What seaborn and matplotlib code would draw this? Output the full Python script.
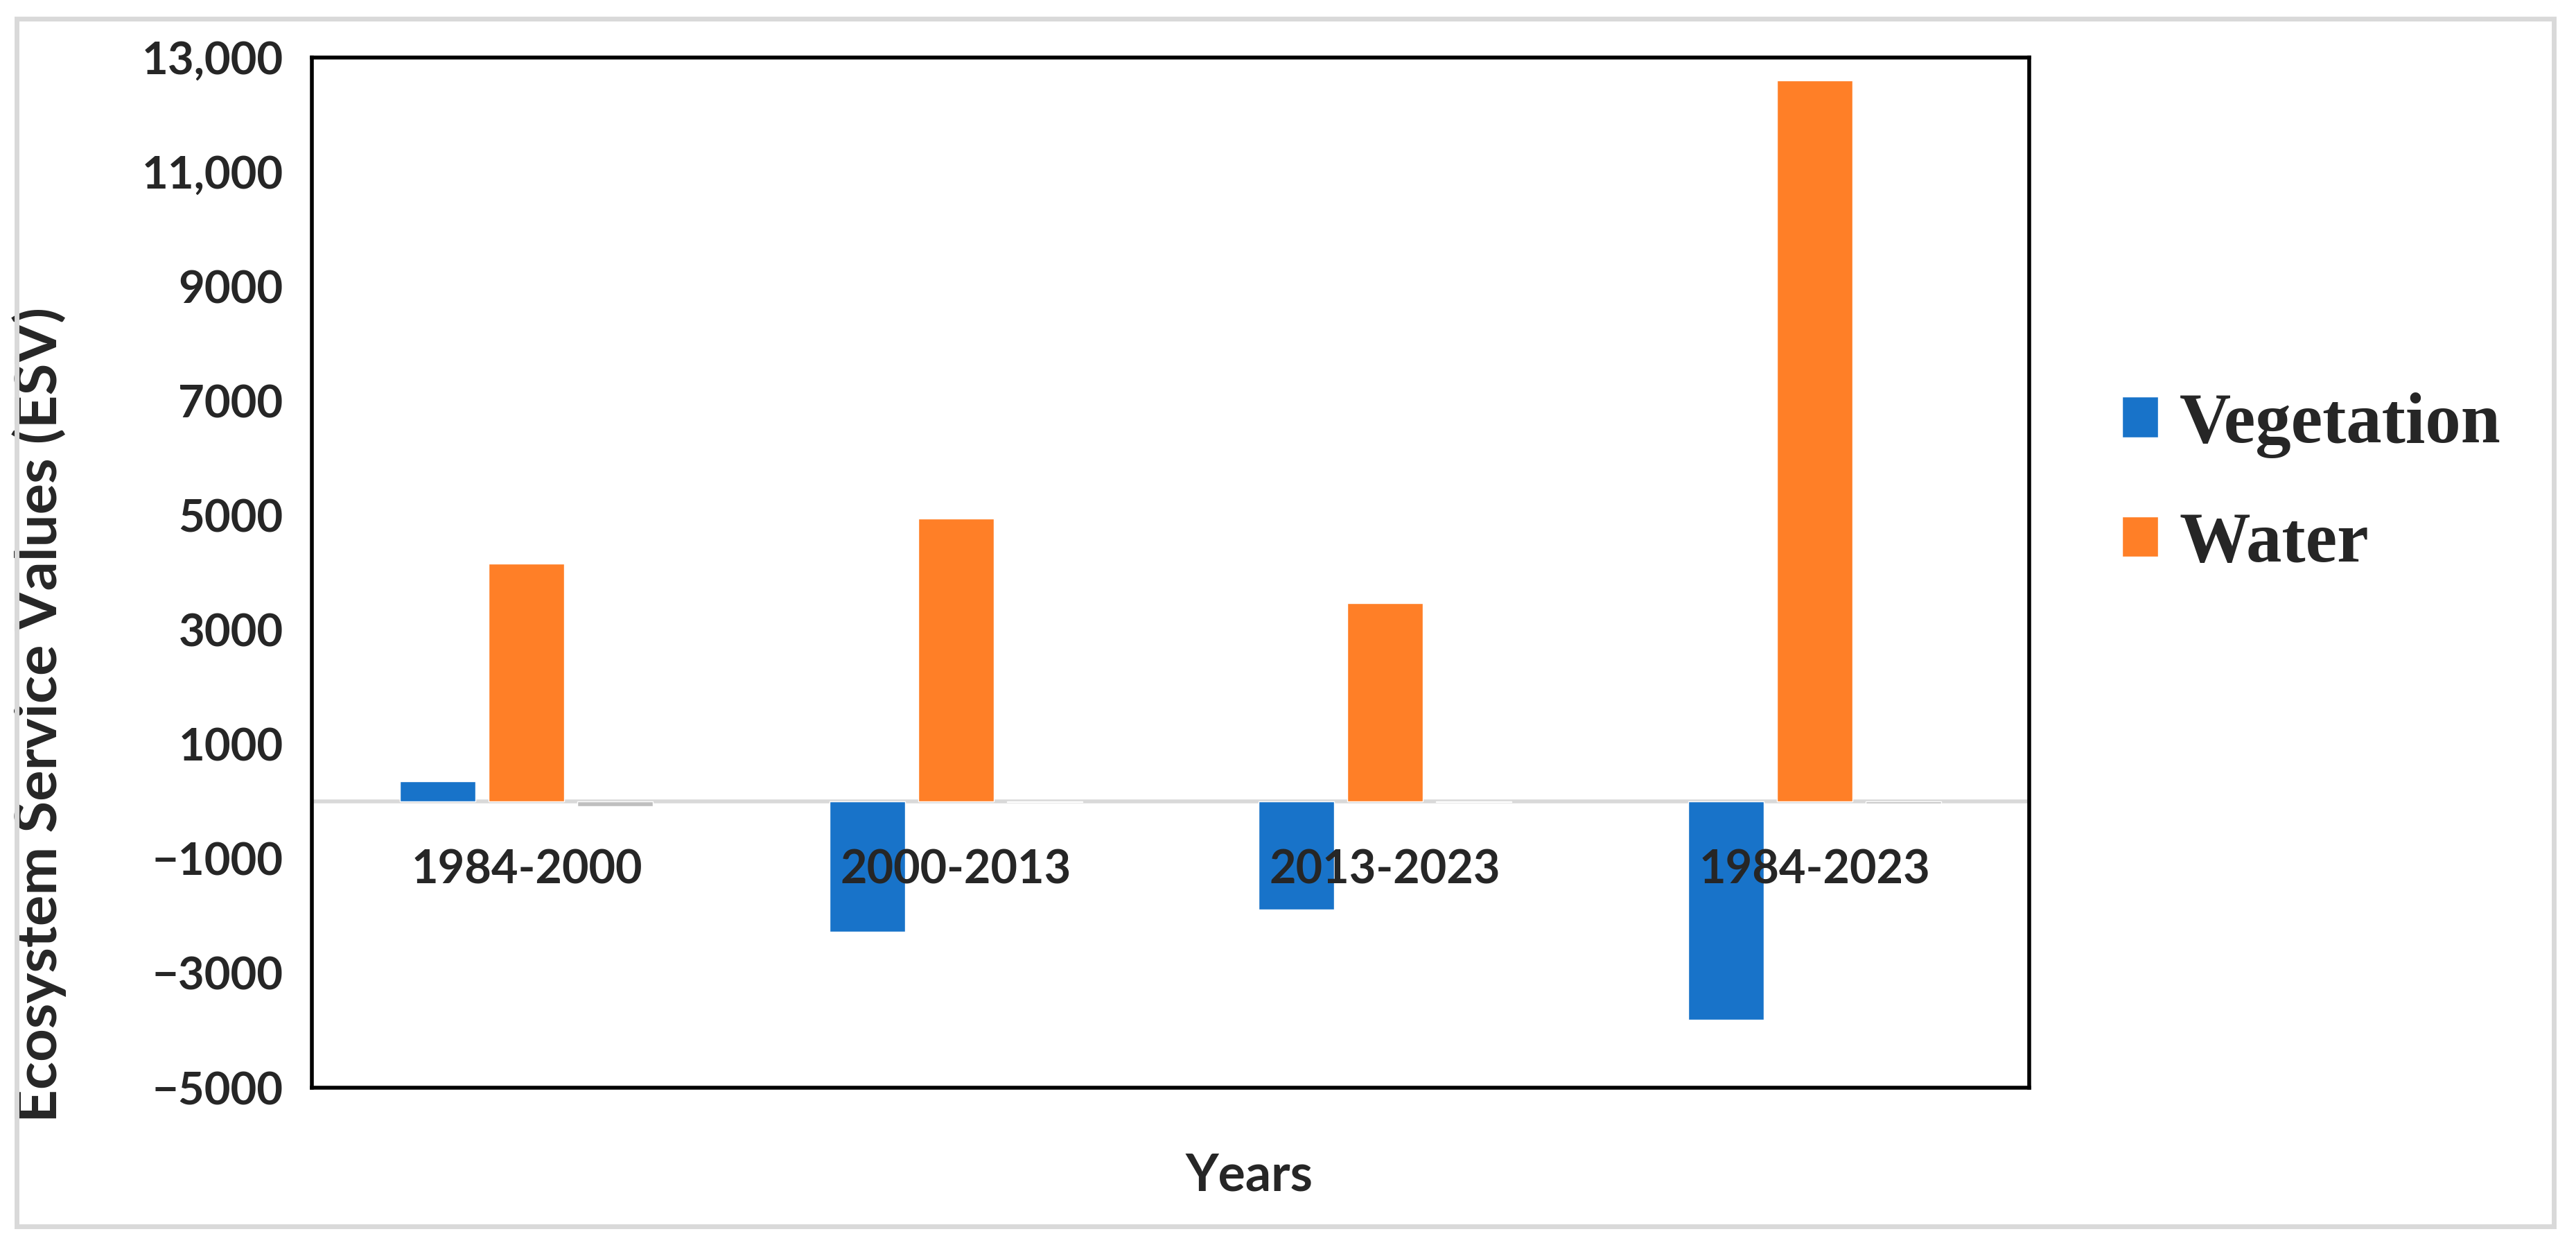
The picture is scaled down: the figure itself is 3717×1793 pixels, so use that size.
import numpy as np
import pandas as pd
import matplotlib
matplotlib.use("Agg")
import matplotlib.pyplot as plt
import seaborn as sns
from matplotlib.patches import Patch, Rectangle

# data
periods = ["1984-2000", "2000-2013", "2013-2023", "1984-2023"]
vegetation = [350, -2270, -1890, -3810]
water = [4160, 4940, 3470, 12600]
other = [-80, -10, -10, -30]   # faint grey series, not in the legend

series_names = ["Vegetation", "Water", "Other"]
series_colors = ["#1873C9", "#FF7F27", "#BFBFBF"]

y_ticks = [-5000, -3000, -1000, 1000, 3000, 5000, 7000, 9000, 11000, 13000]
y_tick_labels = ["\u22125000", "\u22123000", "\u22121000", "1000", "3000",
                 "5000", "7000", "9000", "11,000", "13,000"]

df = pd.DataFrame({
    "Period": periods * 3,
    "Series": ["Vegetation"] * 4 + ["Water"] * 4 + ["Other"] * 4,
    "ESV": vegetation + water + other,
})

sns.set_theme(style="white")
plt.rcParams["font.family"] = ["Lato", "DejaVu Sans"]

fig = plt.figure(figsize=(37.17, 17.93), dpi=100)
ax = fig.add_axes([0.1211, 0.1249, 0.6666, 0.8288])

sns.barplot(data=df, x="Period", y="ESV", hue="Series", hue_order=series_names,
            order=periods, palette=series_colors, width=0.62, gap=0.15,
            saturation=1, ax=ax, legend=False)

ax.set_ylim(-5000, 13000)
ax.set_xlim(-0.5, len(periods) - 0.5)
ax.set_yticks(y_ticks)
ax.set_yticklabels(y_tick_labels, fontsize=47, fontweight="bold")
ax.tick_params(axis="y", length=0, pad=30)
ax.set_xticks([])
ax.axhline(0, color="#D9D9D9", lw=4, zorder=0.5)

# category labels sit inside the plot, below the zero line
for i, p in enumerate(periods):
    ax.text(i, -1200, p, ha="center", va="center", fontsize=48, fontweight="bold")

for s in ax.spines.values():
    s.set_color("black")
    s.set_linewidth(4)

ax.set_xlabel("Years", fontsize=53, fontweight="bold")
ax.xaxis.set_label_coords(0.546, -0.062)
ax.set_ylabel("Ecosystem Service Values (ESV)", fontsize=60, fontweight="bold")
ax.yaxis.set_label_coords(-0.143, 0.362)

handles = [Patch(facecolor=c, label=n) for c, n in zip(series_colors[:2], series_names[:2])]
fig.legend(handles=handles, loc="center left", bbox_to_anchor=(0.799, 0.61),
           frameon=False, handlelength=0.5, handleheight=0.5, handletextpad=0.3,
           labelspacing=0.75, prop={"family": "Liberation Serif", "weight": "bold", "size": 74})

# light grey outer frame around the whole figure
fig.patches.append(Rectangle((0.0065, 0.0134), 0.985, 0.9716, transform=fig.transFigure,
                             fill=False, edgecolor="#D9D9D9", lw=5))

fig.savefig("out.png", dpi=100)
